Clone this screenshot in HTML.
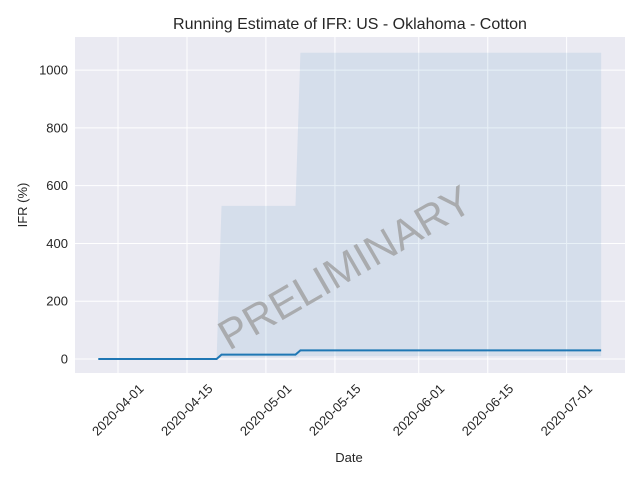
<!DOCTYPE html>
<html><head><meta charset="utf-8"><style>
html,body{margin:0;padding:0;background:#fff;}
svg text{font-family:"Liberation Sans","DejaVu Sans",sans-serif;}
</style></head><body>
<svg id="chart" width="640" height="480" viewBox="0 0 640 480">
<rect width="640" height="480" fill="#fff"/>
<rect x="75" y="37" width="550" height="336" fill="#eaeaf2"/>
<g id="grid"></g>
<g id="band"></g>
<g id="line"></g>
<g id="ticks"></g>
<text x="350" y="29" text-anchor="middle" font-size="16" fill="#262626">Running Estimate of IFR: US - Oklahoma - Cotton</text>
<text x="349" y="462" text-anchor="middle" font-size="13" fill="#262626">Date</text>
<text transform="translate(27,205) rotate(-90)" text-anchor="middle" font-size="13" fill="#262626">IFR (%)</text>
<text transform="translate(352,280) rotate(-30)" text-anchor="middle" font-size="42" fill="#999" fill-opacity="0.75">PRELIMINARY</text>
</svg>
<script>
const lineDates = ["2020-03-28","2020-04-21","2020-04-22","2020-05-07","2020-05-08","2020-07-08"];
const lineValues = [0,0,15,15,30,30];
const bandDates = ["2020-04-21","2020-04-22","2020-05-07","2020-05-08","2020-07-08"];
const bandUpper = [0,530,530,1060,1060];
const bandLower = [0,5,5,10,10];
const xTickLabels = ["2020-04-01","2020-04-15","2020-05-01","2020-05-15","2020-06-01","2020-06-15","2020-07-01"];
const yTickValues = [0,200,400,600,800,1000];

const NS="http://www.w3.org/2000/svg";
const DAY=86400000, t0=Date.parse("2020-04-01");
function xs(d){return 118+(Date.parse(d)-t0)/DAY*4.93;}
function ys(v){return 359-v*0.2889;}
function mk(tag,attrs,parent){const e=document.createElementNS(NS,tag);for(const k in attrs)e.setAttribute(k,attrs[k]);document.getElementById(parent).appendChild(e);return e;}

yTickValues.forEach(v=>{
  const g=mk('line',{x1:75,x2:625,y1:ys(v),y2:ys(v),stroke:'#fff','stroke-width':1},'grid');
  
  
  const t=mk('text',{x:68,y:ys(v)+4.5,'text-anchor':'end','font-size':13,fill:'#262626'},'ticks');
  t.textContent=v;
  
  
});
xTickLabels.forEach(d=>{
  const x=xs(d);
  const g=mk('line',{x1:x,x2:x,y1:37,y2:373,stroke:'#fff','stroke-width':1},'grid');
  
  
  const t=mk('text',{'text-anchor':'middle','font-size':13,fill:'#262626',transform:`translate(${x+3},${413}) rotate(-45)`},'ticks');
  t.textContent=d;
  
  
});
let pts=bandDates.map((d,i)=>xs(d)+','+ys(bandUpper[i]));
for(let i=bandDates.length-1;i>=0;i--)pts.push(xs(bandDates[i])+','+ys(bandLower[i]));
const b=mk('polygon',{points:pts.join(' '),fill:'#1f77b4','fill-opacity':0.1},'band');


const l=mk('polyline',{points:lineDates.map((d,i)=>xs(d)+','+ys(lineValues[i])).join(' '),fill:'none',stroke:'#1f77b4','stroke-width':2},'line');


</script>
</body></html>
